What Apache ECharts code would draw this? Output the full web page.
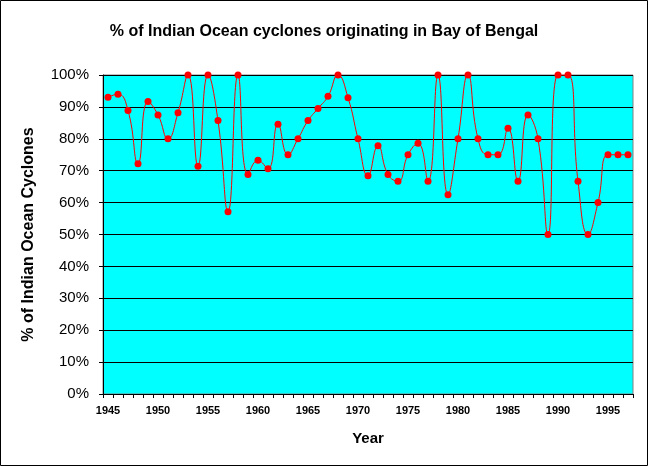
<!DOCTYPE html>
<html>
<head>
<meta charset="utf-8">
<script src="https://cdn.jsdelivr.net/npm/echarts@6/dist/echarts.min.js"></script>
<style>
html,body{margin:0;padding:0;background:#fff;}
#c{width:648px;height:466px;}
</style>
</head>
<body>
<div id="c"></div>
<script>
var title = '% of Indian Ocean cyclones originating in Bay of Bengal';
var yAxisName = '% of Indian Ocean Cyclones';
var xAxisName = 'Year';
var years = [];
for (var y = 1945; y <= 1997; y++) years.push(String(y));
var pctBayOfBengal = [
  93, 94, 88.9, 72.2, 91.7, 87.5, 80, 88.2, 100, 71.4,
  100, 85.7, 57.1, 100, 68.8, 73.3, 70.6, 84.6, 75, 80,
  85.7, 89.5, 93.3, 100, 92.9, 80, 68.4, 77.8, 68.8, 66.7,
  75, 78.6, 66.7, 100, 62.5, 80, 100, 80, 75, 75,
  83.3, 66.7, 87.5, 80, 50, 100, 100, 66.7, 50, 60,
  75, 75, 75
];

var chart = echarts.init(document.getElementById('c'), null, {renderer:'canvas'});
chart.setOption({
  animation: false,
  backgroundColor: '#ffffff',
  title: {
    text: title,
    left: 'center',
    top: 19,
    textStyle: {fontFamily: 'Liberation Sans, Arial', fontSize: 16, fontWeight: 'bold', color: '#000'}
  },
  graphic: [{
    type: 'rect', silent: true, z: 100,
    shape: {x: 0.5, y: 0.5, width: 647, height: 465},
    style: {fill: null, stroke: '#000', lineWidth: 1}
  }],
  grid: {
    left: 103, right: 15, top: 75, bottom: 72,
    show: true, backgroundColor: '#00FFFF', borderColor: '#808080', borderWidth: 1
  },
  xAxis: {
    type: 'category',
    data: years,
    boundaryGap: true,
    name: xAxisName,
    nameLocation: 'middle',
    nameGap: 37,
    nameTextStyle: {fontFamily: 'Liberation Sans, Arial', fontSize: 15, fontWeight: 'bold', color: '#000'},
    axisLine: {lineStyle: {color: '#000', width: 1}},
    axisTick: {show: true, interval: 0, length: 4, lineStyle: {color: '#000'}},
    axisLabel: {interval: 4, fontFamily: 'Liberation Sans, Arial', fontSize: 11, fontWeight: 'bold', color: '#000', margin: 11},
    splitLine: {show: false}
  },
  yAxis: {
    type: 'value',
    min: 0, max: 100, interval: 10,
    name: yAxisName,
    nameLocation: 'middle',
    nameGap: 66,
    nameTextStyle: {fontFamily: 'Liberation Sans, Arial', fontSize: 16, fontWeight: 'bold', color: '#000'},
    axisLine: {show: true, lineStyle: {color: '#000', width: 1}},
    axisTick: {show: true, length: 4, lineStyle: {color: '#000'}},
    axisLabel: {formatter: '{value}%', fontFamily: 'Liberation Sans, Arial', fontSize: 15, color: '#000', margin: 14},
    splitLine: {show: true, lineStyle: {color: '#000', width: 1}}
  },
  series: [{
    type: 'line',
    data: pctBayOfBengal,
    smooth: 0.5,
    symbol: 'circle',
    symbolSize: 7,
    showAllSymbol: true,
    lineStyle: {color: '#ff0000', width: 1},
    itemStyle: {color: '#ff0000'}
  }]
});
</script>
</body>
</html>
